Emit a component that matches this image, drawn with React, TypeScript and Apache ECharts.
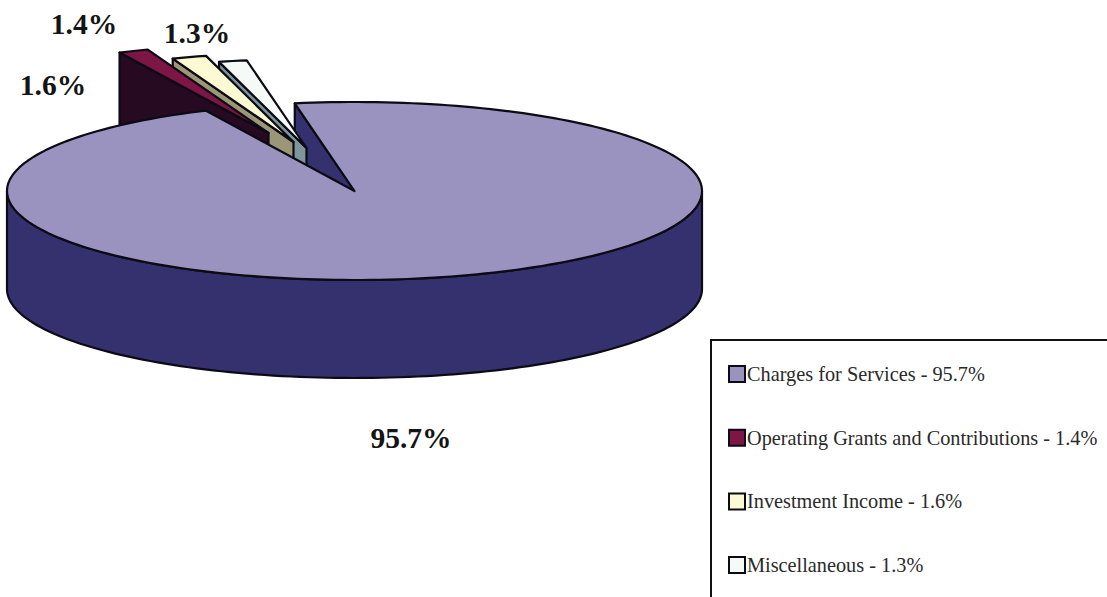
import React, { useEffect, useRef } from "react";
import * as echarts from "echarts";

// Revenue shares, in legend order
const sourceNames = [
  "Charges for Services",
  "Operating Grants and Contributions",
  "Investment Income",
  "Miscellaneous",
];
const shares = [95.7, 1.4, 1.6, 1.3];

const topColors = ["#9b93bf", "#7d1545", "#fbfad2", "#f5faf6"];
const wallColors = ["#35316f", "#260a22", "#9c9678", "#7d959c"];

// Pie projection: a flattened ellipse with a vertical rim
const CX = 354.5;
const CY = 191;
const RX = 347.5;
const RY = 89;
const DEPTH = 98;
const START_DEG = -9.9;

// How far each pulled-out wedge sits from the pie's centre
const wedgeShift = [
  [0, 0],
  [-86, -58],
  [-61, -49],
  [-48, -43],
];
// Value label centres for each slice
const labelAnchors = [
  [411, 438],
  [84, 24],
  [53, 85],
  [197, 33],
];

const LINE = "#0c0a14";
const SERIF = "'Liberation Serif', 'Times New Roman', serif";

const legendLabel = (i: number) => `${sourceNames[i]} - ${shares[i].toFixed(1)}%`;

const total = shares.reduce((a, b) => a + b, 0);
const sliceRange = (i: number) => {
  const before = shares.slice(0, i).reduce((a, b) => a + b, 0);
  return [
    START_DEG + (before / total) * 360,
    START_DEG + ((before + shares[i]) / total) * 360,
  ];
};

const rimPoint = (deg: number, ox = 0, oy = 0, drop = 0): number[] => {
  const r = (deg * Math.PI) / 180;
  return [CX + ox + RX * Math.sin(r), CY + oy - RY * Math.cos(r) + drop];
};

const arcPoints = (from: number, to: number, ox = 0, oy = 0, drop = 0) => {
  const steps = Math.max(2, Math.ceil(Math.abs(to - from) / 1.5));
  const pts: number[][] = [];
  for (let k = 0; k <= steps; k++) {
    pts.push(rimPoint(from + ((to - from) * k) / steps, ox, oy, drop));
  }
  return pts;
};

const outline = { stroke: LINE, lineWidth: 2.2, lineJoin: "round" };

const polygon = (points: number[][], fill: string, z2 = 0) => ({
  type: "polygon",
  z2,
  shape: { points },
  style: { fill, ...outline },
});

const valueLabel = (i: number) => ({
  type: "text",
  z2: 10,
  x: labelAnchors[i][0],
  y: labelAnchors[i][1],
  style: {
    text: `${shares[i].toFixed(1)}%`,
    font: `bold 29.5px ${SERIF}`,
    fill: "#141414",
    align: "center",
    verticalAlign: "middle",
  },
});

// Cut face of the large slice that shows through the gap; it lies behind the wedges
const renderBigCutFace = () => {
  const [a0] = sliceRange(0);
  const apex = [CX, CY];
  const outer = rimPoint(a0);
  return {
    type: "group",
    children: [
      polygon(
        [outer, apex, [apex[0], apex[1] + DEPTH], [outer[0], outer[1] + DEPTH]],
        wallColors[0]
      ),
    ],
  };
};

// A pulled-out wedge: its near cut face and its top
const renderWedge = (i: number) => () => {
  const [a0, a1] = sliceRange(i);
  const [ox, oy] = wedgeShift[i];
  const apex = [CX + ox, CY + oy];
  const outer = rimPoint(a0, ox, oy);
  return {
    type: "group",
    children: [
      polygon(
        [outer, apex, [apex[0], apex[1] + DEPTH], [outer[0], outer[1] + DEPTH]],
        wallColors[i],
        1
      ),
      polygon([apex, ...arcPoints(a0, a1, ox, oy)], topColors[i], 2),
      valueLabel(i),
    ],
  };
};

// The large slice: front rim and top face, drawn over the wedges' lower parts
const renderBigSlice = () => {
  const [a0, a1] = sliceRange(0);
  return {
    type: "group",
    children: [
      polygon(
        [...arcPoints(90, 270), ...arcPoints(270, 90, 0, 0, DEPTH)],
        wallColors[0],
        1
      ),
      polygon([[CX, CY], ...arcPoints(a0, a1)], topColors[0], 2),
      valueLabel(0),
    ],
  };
};

const customSeries = (name: string, value: number, renderItem: any) => ({
  type: "custom",
  name,
  coordinateSystem: "none",
  silent: true,
  data: [[value]],
  renderItem,
});

export default function App() {
  const ref = useRef<HTMLDivElement>(null);

  useEffect(() => {
    const chart = echarts.init(ref.current!, null, { renderer: "svg" });
    chart.setOption({
      animation: false,
      backgroundColor: "#ffffff",
      legend: {
        left: 728,
        top: 364,
        orient: "vertical",
        padding: 0,
        itemWidth: 16,
        itemHeight: 16,
        itemGap: 43.7,
        selectedMode: false,
        textStyle: {
          fontFamily: SERIF,
          fontSize: 20.3,
          color: "#2a2a2a",
          padding: [0, 0, 0, -3],
        },
        data: sourceNames.map((_, i) => ({
          name: legendLabel(i),
          icon: "rect",
          itemStyle: {
            color: topColors[i],
            borderColor: LINE,
            borderWidth: 2,
          },
        })),
      },
      graphic: [
        {
          type: "polyline",
          shape: {
            points: [
              [711, 597],
              [711, 340],
              [1107, 340],
            ],
          },
          style: { fill: "none", stroke: "#111111", lineWidth: 2 },
        },
      ],
      // Painted back to front: the wedge nearest the viewer goes after its neighbours
      series: [
        customSeries("cut face", shares[0], renderBigCutFace),
        customSeries(legendLabel(3), shares[3], renderWedge(3)),
        customSeries(legendLabel(2), shares[2], renderWedge(2)),
        customSeries(legendLabel(1), shares[1], renderWedge(1)),
        customSeries(legendLabel(0), shares[0], renderBigSlice),
      ],
    });
    return () => chart.dispose();
  }, []);

  return (
    <div
      ref={ref}
      style={{ position: "absolute", left: 0, top: 0, width: 1107, height: 597 }}
    />
  );
}
